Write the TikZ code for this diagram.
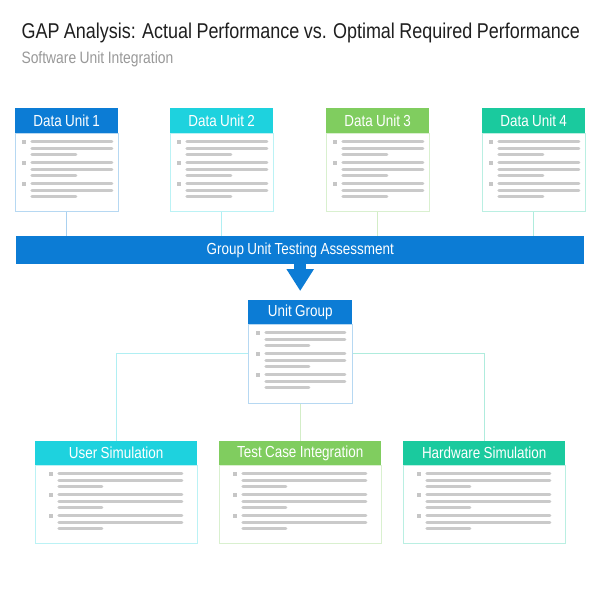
\documentclass[tikz,border=0pt]{standalone}
\usepackage{fontspec}
\setmainfont[FakeStretch=0.84,WordSpace=0.9]{Liberation Sans}
\usetikzlibrary{arrows.meta,positioning}

\definecolor{unitblue}{RGB}{12,124,213}
\definecolor{unitcyan}{RGB}{30,210,222}
\definecolor{unitgreen}{RGB}{128,205,95}
\definecolor{unitteal}{RGB}{26,202,158}
\definecolor{textline}{RGB}{202,202,202}
\definecolor{bulletgray}{RGB}{198,198,198}

\newcommand{\cardlines}[3]{
	\foreach \k in {0,1,2}{
		\fill[bulletgray] (#1-2.3,8.5+21*\k-2.3) rectangle ++(4.6,4.6);
		\draw[textline,line width=3pt,line cap=round] (#1+8,8.5+21*\k) -- (#2,8.5+21*\k);
		\draw[textline,line width=3pt,line cap=round] (#1+8,15+21*\k) -- (#2,15+21*\k);
		\draw[textline,line width=3pt,line cap=round] (#1+8,21.5+21*\k) -- (#1+#3,21.5+21*\k);
	}
}

\begin{document}
\begin{tikzpicture}[x=1pt,y=-1pt,
	head/.style={fill=#1,text=white,inner sep=0pt,anchor=north west,font=\fontsize{16}{19}\selectfont},
	body/.style={draw=#1!30,fill=white,line width=0.8pt,inner sep=0pt,anchor=north},
	link/.style={draw=#1!35,line width=0.8pt}]
	\fill[white] (0,0) rectangle (600,600);
	\useasboundingbox (0,0) rectangle (600,600);

	\node[anchor=base west,text=black!88,font=\fontsize{21.4}{25}\selectfont] (title) at (18,38.5) {GAP Analysis: Actual Performance vs. Optimal Required Performance};
	\node[anchor=base west,text=black!40,font=\fontsize{16.5}{20}\selectfont] (subtitle) at (18,63) {Software Unit Integration};

	\node[fill=unitblue,text=white,inner sep=0pt,anchor=north west,minimum width=568pt,minimum height=28pt,font=\fontsize{16}{19}\selectfont] (bar) at (16,236) {Group Unit Testing Assessment};

	\foreach \i/\x/\c in {1/15/unitblue,2/170/unitcyan,3/326/unitgreen,4/482/unitteal}{
		\node[head=\c,minimum width=103pt,minimum height=25pt] (d\i) at (\x,108) {Data Unit \i};
		\node[body=\c,minimum width=103pt,minimum height=78pt] (d\i b) at (d\i.south) {};
		\begin{scope}[shift={(d\i b.north west)}]
			\cardlines{9}{97}{52}
		\end{scope}
		\draw[link=\c] (d\i b.south) -- (d\i b.south |- bar.north);
	}

	\node[head=unitblue,minimum width=104pt,minimum height=24pt] (ug) at (248,300) {Unit Group};
	\node[body=unitblue,minimum width=104pt,minimum height=79pt] (ugb) at (ug.south) {};
	\begin{scope}[shift={(ugb.north west)}]
		\cardlines{10}{97}{51}
	\end{scope}
	\draw[unitblue,line width=12pt,-{Triangle[width=26pt,length=22pt]},shorten >=9pt] (bar.south) -- (ug.north);

	\foreach \i/\x/\c/\t in {1/35/unitcyan/User Simulation,2/219/unitgreen/Test Case Integration,3/403/unitteal/Hardware Simulation}{
		\node[head=\c,minimum width=162pt,minimum height=24pt] (s\i) at (\x,441) {\t};
		\node[body=\c,minimum width=162pt,minimum height=78pt] (s\i b) at (s\i.south) {};
		\begin{scope}[shift={(s\i b.north west)}]
			\cardlines{16}{147}{51}
		\end{scope}
	}

	\coordinate (split) at (300,353);
	\draw[link=unitcyan] (ugb.west |- split) -| (s1.north);
	\draw[link=unitteal] (ugb.east |- split) -| (s3.north);
	\draw[link=unitgreen] (ugb.south) -- (s2.north);
\end{tikzpicture}
\end{document}
